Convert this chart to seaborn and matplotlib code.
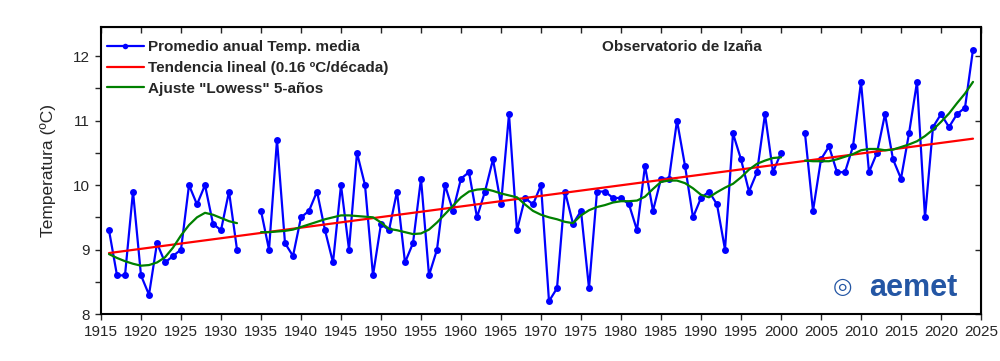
import numpy as np
import pandas as pd
import matplotlib
matplotlib.use("Agg")
import matplotlib.pyplot as plt
from matplotlib.lines import Line2D
import seaborn as sns

# -------------------------------
# Data
# -------------------------------

years = list(range(1916, 2025))

temp_media = [
    9.3, 8.6, 8.6, 9.9, 8.6, 8.3, 9.1, 8.8, 8.9, 9.0,          # 1916-1925
    10.0, 9.7, 10.0, 9.4, 9.3, 9.9, 9.0, np.nan, np.nan, 9.6,  # 1926-1935
    9.0, 10.7, 9.1, 8.9, 9.5, 9.6, 9.9, 9.3, 8.8, 10.0,        # 1936-1945
    9.0, 10.5, 10.0, 8.6, 9.4, 9.3, 9.9, 8.8, 9.1, 10.1,       # 1946-1955
    8.6, 9.0, 10.0, 9.6, 10.1, 10.2, 9.5, 9.9, 10.4, 9.7,      # 1956-1965
    11.1, 9.3, 9.8, 9.7, 10.0, 8.2, 8.4, 9.9, 9.4, 9.6,        # 1966-1975
    8.4, 9.9, 9.9, 9.8, 9.8, 9.7, 9.3, 10.3, 9.6, 10.1,        # 1976-1985
    10.1, 11.0, 10.3, 9.5, 9.8, 9.9, 9.7, 9.0, 10.8, 10.4,     # 1986-1995
    9.9, 10.2, 11.1, 10.2, 10.5, np.nan, np.nan, 10.8, 9.6, 10.4,  # 1996-2005
    10.6, 10.2, 10.2, 10.6, 11.6, 10.2, 10.5, 11.1, 10.4, 10.1,    # 2006-2015
    10.8, 11.6, 9.5, 10.9, 11.1, 10.9, 11.1, 11.2, 12.1,           # 2016-2024
]

lowess_5y = [
    8.93, 8.87, 8.82, 8.78, 8.75, 8.76, 8.80, 8.88, 9.03, 9.22,        # 1916-1925
    9.38, 9.50, 9.57, 9.54, 9.49, 9.44, 9.41, np.nan, np.nan, 9.27,    # 1926-1935
    9.27, 9.28, 9.29, 9.31, 9.35, 9.39, 9.43, 9.47, 9.50, 9.53,        # 1936-1945
    9.53, 9.52, 9.51, 9.50, 9.42, 9.32, 9.30, 9.27, 9.24, 9.25,        # 1946-1955
    9.31, 9.42, 9.55, 9.68, 9.81, 9.90, 9.93, 9.94, 9.91, 9.87,        # 1956-1965
    9.84, 9.81, 9.70, 9.60, 9.54, 9.50, 9.47, 9.43, 9.41, 9.53,        # 1966-1975
    9.61, 9.66, 9.69, 9.73, 9.75, 9.75, 9.76, 9.82, 9.94, 10.05,       # 1976-1985
    10.07, 10.07, 10.03, 9.95, 9.85, 9.81, 9.89, 9.96, 10.02, 10.12,   # 1986-1995
    10.24, 10.33, 10.38, 10.42, 10.43, np.nan, np.nan, 10.38, 10.37, 10.37,  # 1996-2005
    10.37, 10.40, 10.44, 10.48, 10.54, 10.56, 10.56, 10.54, 10.55, 10.59,    # 2006-2015
    10.63, 10.68, 10.76, 10.86, 10.98, 11.11, 11.27, 11.42, 11.60,           # 2016-2024
]

x_ticks = list(range(1915, 2026, 5))
y_ticks = [8, 9, 10, 11, 12]

label_obs = "Promedio anual Temp. media"
label_trend = "Tendencia lineal (0.16 ºC/década)"
label_lowess = 'Ajuste "Lowess" 5-años'
station = "Observatorio de Izaña"

# -------------------------------
# Prepare frames
# -------------------------------

df = pd.DataFrame({"year": years, "temp": temp_media, "lowess": lowess_5y})
df["seg"] = df["temp"].isna().cumsum()
obs = df.dropna(subset=["temp"])
smooth = df.dropna(subset=["lowess"])

slope, intercept = np.polyfit(obs["year"], obs["temp"], 1)
trend = pd.DataFrame({"year": [years[0], years[-1]]})
trend["temp"] = intercept + slope * trend["year"]

# -------------------------------
# Plot
# -------------------------------

sns.set_style("ticks")
plt.rcParams["font.family"] = ["Liberation Sans", "DejaVu Sans"]

BLUE = "#0000ff"
RED = "#ff0000"
GREEN = "#008000"

fig, ax = plt.subplots(figsize=(10, 3.61), dpi=100)
fig.subplots_adjust(left=0.101, right=0.981, bottom=0.130, top=0.925)

sns.lineplot(data=obs, x="year", y="temp", units="seg", estimator=None,
             color=BLUE, lw=1.6, marker="o", markersize=5, markeredgewidth=0,
             ax=ax, zorder=2)
sns.lineplot(data=trend, x="year", y="temp", color=RED, lw=1.6, ax=ax, zorder=3)
sns.lineplot(data=smooth, x="year", y="lowess", units="seg", estimator=None,
             color=GREEN, lw=1.6, ax=ax, zorder=4)

ax.set_xlim(1915, 2025)
ax.set_ylim(8, 12.45)
ax.set_xticks(x_ticks)
ax.set_yticks(y_ticks)
ax.set_yticks(np.arange(8.5, 12.4, 1.0), minor=True)
ax.set_xlabel("")
ax.set_ylabel("Temperatura (ºC)", fontsize=12.5, labelpad=12)

for lab in ax.get_xticklabels() + ax.get_yticklabels():
    lab.set_fontsize(11)
ax.tick_params(axis="both", which="major", direction="out", length=4, width=1, pad=4)
ax.tick_params(axis="y", which="minor", direction="out", length=4, width=1)

for side in ["top", "right", "bottom", "left"]:
    ax.spines[side].set_visible(True)
    ax.spines[side].set_linewidth(1.5)
    ax.spines[side].set_color("black")

top = ax.secondary_xaxis("top")
top.set_xticks(x_ticks)
top.tick_params(direction="in", length=4, width=1, labeltop=False)
right = ax.secondary_yaxis("right")
right.set_yticks(y_ticks)
right.tick_params(direction="in", length=4, width=1, labelright=False)

handles = [
    Line2D([], [], color=BLUE, lw=1.6, marker="o", markersize=4, markevery=[1],
           markeredgewidth=0),
    Line2D([], [], color=RED, lw=1.6),
    Line2D([], [], color=GREEN, lw=1.6),
]
leg = ax.legend(handles, [label_obs, label_trend, label_lowess],
                loc="upper left", bbox_to_anchor=(0.007, 0.955), frameon=False,
                prop={"weight": "bold", "size": 11}, handlelength=2.4,
                handletextpad=0.25, labelspacing=0.45, borderpad=0, borderaxespad=0)

ax.text(0.66, 0.93, station, transform=ax.transAxes, ha="center", va="center",
        fontsize=11, fontweight="bold")

# logo
ax.text(0.923, 0.09, "aemet", transform=ax.transAxes, ha="center", va="center",
        fontsize=22, fontweight="bold", color="#2456a4")
ax.text(0.843, 0.095, "◎", transform=ax.transAxes, ha="center", va="center",
        fontsize=16, color="#2456a4", family="DejaVu Sans")

fig.savefig("out.png", dpi=100)
